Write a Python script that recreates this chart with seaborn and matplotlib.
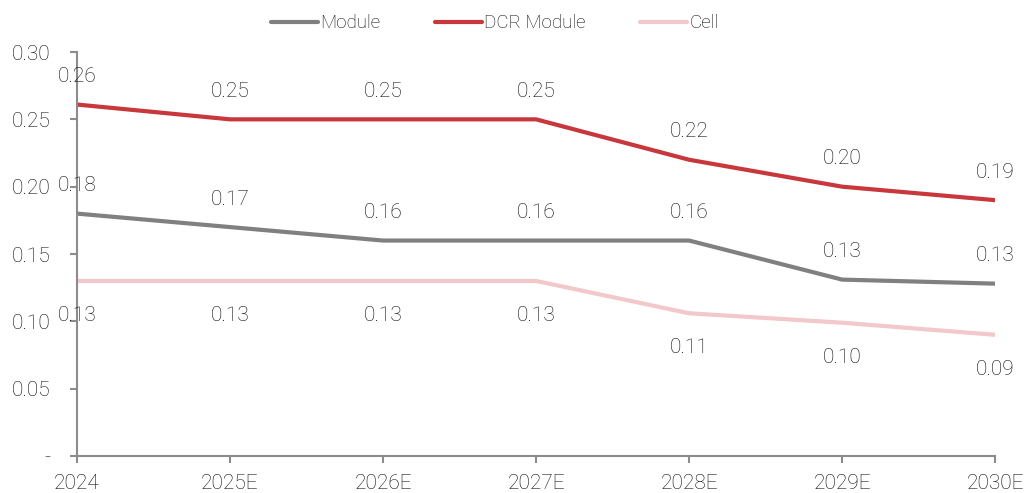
import matplotlib
matplotlib.use("Agg")
import matplotlib.pyplot as plt
import seaborn as sns
import pandas as pd

years = ["2024", "2025E", "2026E", "2027E", "2028E", "2029E", "2030E"]
module = [0.18, 0.17, 0.16, 0.16, 0.16, 0.131, 0.128]
dcr_module = [0.261, 0.25, 0.25, 0.25, 0.22, 0.20, 0.19]
cell = [0.13, 0.13, 0.13, 0.13, 0.106, 0.099, 0.09]

series_names = ["Module", "DCR Module", "Cell"]
series_values = [module, dcr_module, cell]
colors = ["#808080", "#C8373B", "#F2C8CA"]
label_offset = [20, 20, -25]  # points above (+) or below (-) each line

sns.set_theme(style="white")
plt.rcParams["font.family"] = ["Roboto", "DejaVu Sans"]
plt.rcParams["font.weight"] = "light"

text_color = "#0A0A0A"

rows = []
for name, vals in zip(series_names, series_values):
    for i, v in enumerate(vals):
        rows.append({"pos": i, "year": years[i], "value": v, "series": name})
df = pd.DataFrame(rows)

fig = plt.figure(figsize=(10.27, 4.93), dpi=100)
ax = fig.add_axes([0.075, 0.075, 0.894, 0.8195])

sns.lineplot(data=df, x="pos", y="value", hue="series", hue_order=series_names,
             palette=colors, linewidth=3.0, ax=ax, legend=False)

for name, vals, off in zip(series_names, series_values, label_offset):
    for i, v in enumerate(vals):
        ax.annotate(f"{v:.2f}", (i, v), xytext=(0, off), textcoords="offset points",
                    ha="center", va="center", fontsize=15, color=text_color,
                    fontweight="light")

ax.set_xlim(0, len(years) - 1)
ax.set_ylim(0, 0.30)
ax.set_xticks(range(len(years)))
ax.set_xticklabels(years)
yt = [0, 0.05, 0.10, 0.15, 0.20, 0.25, 0.30]
ax.set_yticks(yt)
ax.set_yticklabels(["-"] + [f"{t:.2f}" for t in yt[1:]])
ax.set_xlabel("")
ax.set_ylabel("")

for s in ["top", "right"]:
    ax.spines[s].set_visible(False)
for s in ["left", "bottom"]:
    ax.spines[s].set_color("#8C8C8C")
    ax.spines[s].set_linewidth(1.5)
ax.tick_params(axis="both", colors="#8C8C8C", length=5, width=1.5, direction="out",
               labelsize=15, labelcolor=text_color, left=True, bottom=True)
ax.tick_params(axis="y", pad=14)
ax.tick_params(axis="x", pad=8)
for lab in ax.get_xticklabels() + ax.get_yticklabels():
    lab.set_fontweight("light")

handles = [plt.Line2D([], [], color=c, linewidth=3.0) for c in colors]
leg = fig.legend(handles, series_names, loc="upper center", bbox_to_anchor=(0.482, 1.005), ncol=3,
                 frameon=False, handlelength=2.5, handletextpad=0.12, columnspacing=2.9,
                 prop={"size": 13.5, "weight": "light"})
for t in leg.get_texts():
    t.set_color(text_color)

fig.savefig("out.png", dpi=100)
